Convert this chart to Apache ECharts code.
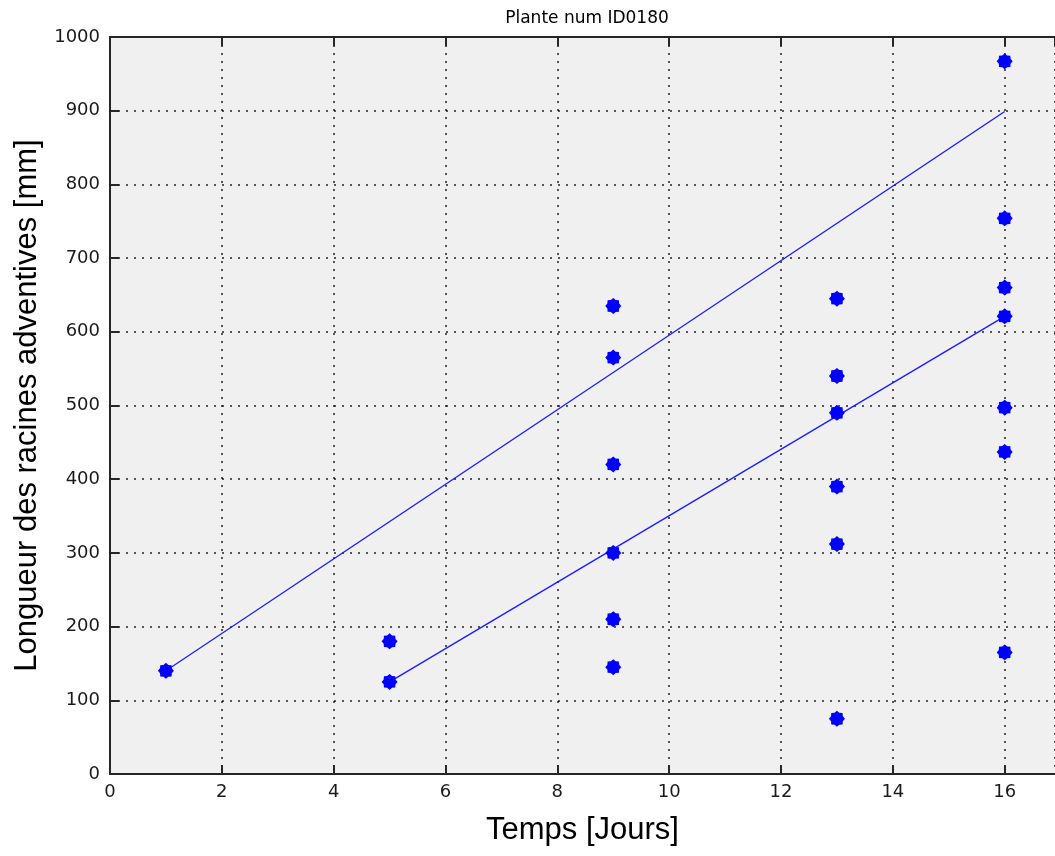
<!DOCTYPE html>
<html>
<head>
<meta charset="utf-8">
<script src="https://cdn.jsdelivr.net/npm/echarts@6/dist/echarts.min.js"></script>
<style>
  html, body { margin: 0; padding: 0; background: #ffffff; }
  #chart { width: 1055px; height: 856px; }
</style>
</head>
<body>
<div id="chart"></div>
<script>
// Mesures : jour de la mesure et longueur de racine correspondante (mm)
const joursMesures = [1, 5, 5, 9, 9, 9, 9, 9, 9, 13, 13, 13, 13, 13, 13, 16, 16, 16, 16, 16, 16, 16];
const longueursMesures = [140, 180, 125, 635, 565, 420, 300, 210, 145, 645, 540, 490, 390, 312, 75, 967, 754, 660, 621, 497, 437, 165];

// Droites de tendance (extrémités)
const droiteHauteJours = [1, 16];
const droiteHauteLongueurs = [140, 899];
const droiteBasseJours = [5, 16];
const droiteBasseLongueurs = [125, 621];

// Graduations
const graduationsX = [0, 2, 4, 6, 8, 10, 12, 14, 16];
const graduationsY = [0, 100, 200, 300, 400, 500, 600, 700, 800, 900, 1000];

const titre = 'Plante num ID0180';
const nomAxeX = 'Temps [Jours]';
const nomAxeY = 'Longueur des racines adventives [mm]';

const zip = (xs, ys) => xs.map((x, i) => [x, ys[i]]);

// Marqueur en étoile pleine à huit branches
function etoile(n, rExt, rInt) {
  const pts = [];
  for (let i = 0; i < 2 * n; i++) {
    const a = Math.PI * i / n;
    const r = i % 2 === 0 ? rExt : rInt;
    pts.push((50 + r * Math.cos(a)).toFixed(2) + ',' + (50 + r * Math.sin(a)).toFixed(2));
  }
  return 'path://M' + pts.join('L') + 'Z';
}
const symboleEtoile = etoile(8, 50, 40);

const police = "'Liberation Sans', Arial, sans-serif";
const policeGrad = "'DejaVu Sans', sans-serif";
const pas = (arr) => arr[1] - arr[0];
const texteGrad = (v) => String(v);

const chart = echarts.init(document.getElementById('chart'), null, { renderer: 'canvas' });

const dotted = { type: [2, 6], color: '#222222', width: 1.5 };

chart.setOption({
  animation: false,
  backgroundColor: '#ffffff',
  title: {
    text: titre,
    left: 582, top: 5,
    textAlign: 'center',
    textStyle: { fontFamily: policeGrad, fontSize: 17, fontWeight: 'normal', color: '#000' }
  },
  grid: {
    left: 110, top: 37, right: -3, bottom: 82,
    show: true, backgroundColor: '#f0f0f0', borderWidth: 0
  },
  xAxis: [{
    type: 'value',
    min: graduationsX[0], max: 16.9, interval: pas(graduationsX),
    name: nomAxeX, nameLocation: 'middle', nameGap: 41,
    nameTextStyle: { fontFamily: police, fontSize: 31, color: '#000' },
    axisLine: { show: true, onZero: false, lineStyle: { color: '#262626', width: 2 } },
    axisTick: { show: true, inside: true, length: 9, lineStyle: { color: '#262626', width: 2 } },
    axisLabel: { show: true, showMaxLabel: false, margin: 9, fontFamily: policeGrad, fontSize: 18, color: '#1a1a1a', formatter: texteGrad },
    splitLine: { show: true, lineStyle: dotted }
  }, {
    type: 'value', position: 'top',
    min: graduationsX[0], max: 16.9, interval: pas(graduationsX),
    axisLine: { show: true, onZero: false, lineStyle: { color: '#262626', width: 2 } },
    axisTick: { show: true, inside: true, length: 9, lineStyle: { color: '#262626', width: 2 } },
    axisLabel: { show: false },
    splitLine: { show: false }
  }],
  yAxis: {
    type: 'value',
    min: graduationsY[0], max: graduationsY[graduationsY.length - 1], interval: pas(graduationsY),
    name: nomAxeY, nameLocation: 'middle', nameGap: 66,
    nameTextStyle: { fontFamily: police, fontSize: 31, color: '#000' },
    axisLine: { show: true, onZero: false, lineStyle: { color: '#262626', width: 2 } },
    axisTick: { show: true, inside: true, length: 9, lineStyle: { color: '#262626', width: 2 } },
    axisLabel: { show: true, margin: 10, fontFamily: policeGrad, fontSize: 18, color: '#1a1a1a', formatter: texteGrad },
    splitLine: { show: true, lineStyle: dotted }
  },
  series: [
    {
      type: 'line', data: zip(droiteHauteJours, droiteHauteLongueurs),
      symbol: 'none', lineStyle: { color: '#1a1aff', width: 1.3 }, silent: true, z: 3
    },
    {
      type: 'line', data: zip(droiteBasseJours, droiteBasseLongueurs),
      symbol: 'none', lineStyle: { color: '#1a1aff', width: 1.3 }, silent: true, z: 3
    },
    {
      type: 'scatter', data: zip(joursMesures, longueursMesures),
      symbol: symboleEtoile, symbolSize: 16,
      itemStyle: { color: '#0000ff', opacity: 1 }, z: 4
    }
  ]
});
</script>
</body>
</html>
